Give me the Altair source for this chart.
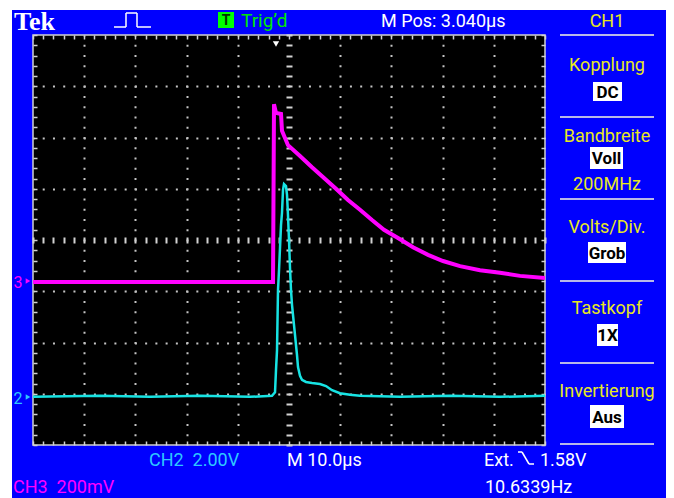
import altair as alt
import pandas as pd

# CH3 (magenta) trace: time in µs from screen centre, level in screen divisions
ch3_time_us = [-50.0, -3.12, -2.93, -2.54, -1.56, -1.37, -0.78, -0.20, 2.15, 4.49, 6.84, 9.18,
               11.52, 13.87, 16.21, 18.55, 21.29, 24.22, 27.15, 30.08, 33.40, 37.30, 41.21, 45.12, 50.0]
ch3_div = [-0.82, -0.82, 2.65, 2.48, 2.46, 2.13, 1.99, 1.85, 1.64, 1.42, 1.21, 1.00,
           0.78, 0.59, 0.39, 0.20, 0.04, -0.14, -0.29, -0.41, -0.51, -0.59, -0.64, -0.70, -0.74]

# CH2 (cyan) trace
ch2_time_us = [-50.0, -36.91, -27.15, -17.38, -7.62, -3.32, -2.73, -2.54, -2.34, -2.15, -1.95, -1.56,
               -1.37, -1.17, -0.98, -0.59, -0.39, -0.20, 0.0, 0.20, 0.39, 0.59, 0.98, 1.17, 1.56,
               1.76, 2.15, 2.54, 3.32, 4.49, 6.05, 7.23, 8.40, 9.96, 11.91, 13.87, 21.68, 31.45, 41.21, 50.0]
ch2_div = [-3.06, -3.04, -3.06, -3.04, -3.06, -3.04, -2.97, -2.54, -2.15, -0.98, -0.59, 0.29,
           0.53, 0.98, 1.09, 1.05, 0.88, 0.49, 0.0, -0.55, -0.98, -1.27, -1.66, -1.85, -2.24,
           -2.48, -2.65, -2.73, -2.77, -2.79, -2.81, -2.85, -2.93, -2.99, -3.02, -3.04, -3.06, -3.04, -3.06, -3.04]

# screen graticule: 10 x 8 divisions, 5 minor steps each
x_minor = [-50 + 2 * i for i in range(51)]
y_minor = [round(-4 + 0.2 * i, 1) for i in range(41)]
x_major = [-40, -30, -20, -10, 10, 20, 30, 40]
y_major = [-3, -2, -1, 1, 2, 3]

panel_head = "CH1"
panel_titles = ["Kopplung", "Bandbreite", "Volts/Div.", "Tastkopf", "Invertierung"]
panel_values = ["DC", "Voll", "Grob", "1X", "Aus"]
bandwidth_text = "200MHz"
top_texts = ["Tek", "Trig\u2019d", "M Pos: 3.040\u00b5s"]
bottom_texts = ["CH2\u00a0\u00a02.00V", "M 10.0\u00b5s", "Ext.", "1.58V", "CH3\u00a0\u00a0200mV", "10.6339Hz"]

# ---------------- styling ----------------
BLUE = "#0000fe"
YEL = "#e8e81e"
MAG = "#ff00ff"
CYAN_TR = "#17e3e3"
CYAN_TX = "#2ec8ff"
WHITE = "#ffffff"
GREEN = "#00e600"
TICK = "#d2d2d2"
FONT = "Roboto"
OX, OY = 33, 35  # page position of the plot area

xs = alt.Scale(domain=[-50, 50], nice=False, zero=False)
ys = alt.Scale(domain=[-4, 4], nice=False, zero=False)

ch3 = pd.DataFrame({"t": ch3_time_us, "v": ch3_div})
ch2 = pd.DataFrame({"t": ch2_time_us, "v": ch2_div})


def tick_axis(orient, values, offset, size, width=1.5):
    return alt.Axis(orient=orient, values=values, offset=offset, tickSize=size, tickWidth=width,
                    tickColor=TICK, domain=False, labels=False, grid=False, title=None)


def grid_axis(orient, values, dash):
    return alt.Axis(orient=orient, values=values, grid=True, gridDash=dash, gridDashOffset=1,
                    gridColor="#c4c4c4", gridWidth=2, ticks=False, labels=False, domain=False,
                    title=None)


one = alt.Data(values=[{"k": 1}])


def text(s, x, y, color, size=18, align="left", weight="normal", font=FONT, baseline="alphabetic"):
    return alt.Chart(one).mark_text(text=s, color=color, fontSize=size, font=font,
                                    fontWeight=weight, align=align, baseline=baseline).encode(
        x=alt.value(x - OX), y=alt.value(y - OY))


def rect(x1, y1, x2, y2, color):
    return alt.Chart(one).mark_rect(color=color).encode(
        x=alt.value(x1 - OX), x2=alt.value(x2 - OX), y=alt.value(y1 - OY), y2=alt.value(y2 - OY))


def seg(x1, y1, x2, y2, color, w=1.5):
    return alt.Chart(one).mark_rule(color=color, strokeWidth=w).encode(
        x=alt.value(x1 - OX), x2=alt.value(x2 - OX), y=alt.value(y1 - OY), y2=alt.value(y2 - OY))


def box(x1, y1, x2, y2, s):
    return [rect(x1, y1, x2, y2, WHITE),
            text(s, (x1 + x2) / 2, (y1 + y2) / 2 + 1, "#000000", 17, "center", "bold", baseline="middle")]


def marker(shape, x, y, color, size=30):
    return alt.Chart(one).mark_point(shape=shape, filled=True, size=size, color=color, opacity=1).encode(
        x=alt.value(x - OX), y=alt.value(y - OY))


layers = []

# graticule (dotted grid, centre ticks) carried by invisible layers
layers.append(alt.Chart(ch2).mark_line(opacity=0).encode(
    x=alt.X("t:Q", scale=xs, axis=grid_axis("bottom", x_major, [2, 8.25])),
    y=alt.Y("v:Q", scale=ys, axis=grid_axis("left", y_major, [2, 8.24]))))
layers.append(alt.Chart(ch2).mark_line(opacity=0).encode(
    x=alt.X("t:Q", scale=xs, axis=tick_axis("bottom", x_minor, -208, 6, 2)),
    y=alt.Y("v:Q", scale=ys, axis=tick_axis("left", y_minor, -259, 6, 2))))

# traces (carry the edge ticks)
layers.append(alt.Chart(ch2).mark_line(color=CYAN_TR, strokeWidth=2.5, clip=True).encode(
    x=alt.X("t:Q", scale=xs, axis=tick_axis("top", x_minor, -4, 4)),
    y=alt.Y("v:Q", scale=ys, axis=tick_axis("right", y_minor, -4, 4))))
layers.append(alt.Chart(ch3).mark_line(color=MAG, strokeWidth=4, clip=True).encode(
    x=alt.X("t:Q", scale=xs, axis=tick_axis("bottom", x_minor, -4, 4)),
    y=alt.Y("v:Q", scale=ys, axis=tick_axis("left", y_minor, -4, 4))))

# white page edges (left / top) outside the blue frame
layers.append(rect(8, 8, 12, 500, WHITE))
layers.append(rect(8, 8, 670, 10, WHITE))

# ---- top bar ----
layers.append(text(top_texts[0], 14, 30, WHITE, 26, "left", "bold", "Liberation Serif"))
for (a, b, c, d) in [(114, 27, 126, 27), (126, 13, 126, 27), (126, 13, 137, 13),
                     (137, 13, 137, 27), (137, 27, 151, 27)]:
    layers.append(seg(a, b, c, d, WHITE, 1.5))
layers.append(rect(218, 12, 234, 28, "#00ff00"))
layers.append(text("T", 226, 21, "#003300", 14, "center", "bold", baseline="middle"))
layers.append(text(top_texts[1], 241, 27, GREEN, 19))
layers.append(text(top_texts[2], 381, 27, WHITE, 18))
layers.append(text(panel_head, 607, 27, YEL, 18, "center"))

# ---- right panel ----
for yy in [35, 117, 199, 281, 363, 444]:
    layers.append(seg(560, yy, 654, yy, "#b8b8e8", 2))
title_y = [71, 142, 233, 314, 397]
box_y = [(82, 101), (147, 169), (242, 263), (324, 346), (405, 428)]
box_x = [(593, 622), (590, 623), (588, 626), (597, 618), (590, 624)]
for s, ty in zip(panel_titles, title_y):
    layers.append(text(s, 607, ty, YEL, 18, "center"))
for s, (y1, y2), (x1, x2) in zip(panel_values, box_y, box_x):
    layers += box(x1, y1, x2, y2, s)
layers.append(text(bandwidth_text, 607, 190, YEL, 18, "center"))

# ---- channel markers and trigger position ----
layers.append(text("3", 18, 288, MAG, 16, "center"))
layers.append(marker("triangle-right", 28, 281, MAG, 28))
layers.append(text("2", 18, 404, CYAN_TX, 16, "center"))
layers.append(marker("triangle-right", 28, 397, CYAN_TX, 28))
layers.append(marker("triangle-down", 276, 44, WHITE, 40))

# ---- bottom bar ----
layers.append(text(bottom_texts[0], 149, 466, CYAN_TX, 18))
layers.append(text(bottom_texts[1], 287, 466, WHITE, 18))
layers.append(text(bottom_texts[2], 484, 466, WHITE, 18))
for (a, b, c, d) in [(518, 452, 522, 452), (522, 452, 529, 464), (529, 464, 534, 464)]:
    layers.append(seg(a, b, c, d, WHITE, 1.5))
layers.append(text(bottom_texts[3], 540, 466, WHITE, 18))
layers.append(text(bottom_texts[4], 13, 493, MAG, 18))
layers.append(text(bottom_texts[5], 485, 493, WHITE, 18))

chart = alt.layer(*layers).resolve_axis(x="independent", y="independent").properties(
    width=512, height=410,
    padding={"left": OX - 8, "top": OY - 8, "right": 121, "bottom": 53},
    background=BLUE,
    autosize=alt.AutoSizeParams(type="none"),
).configure_view(fill="#000000", stroke="#d0d0d0", strokeWidth=1.5)

chart.save("out.html", embed_options={"renderer": "svg", "actions": False})
